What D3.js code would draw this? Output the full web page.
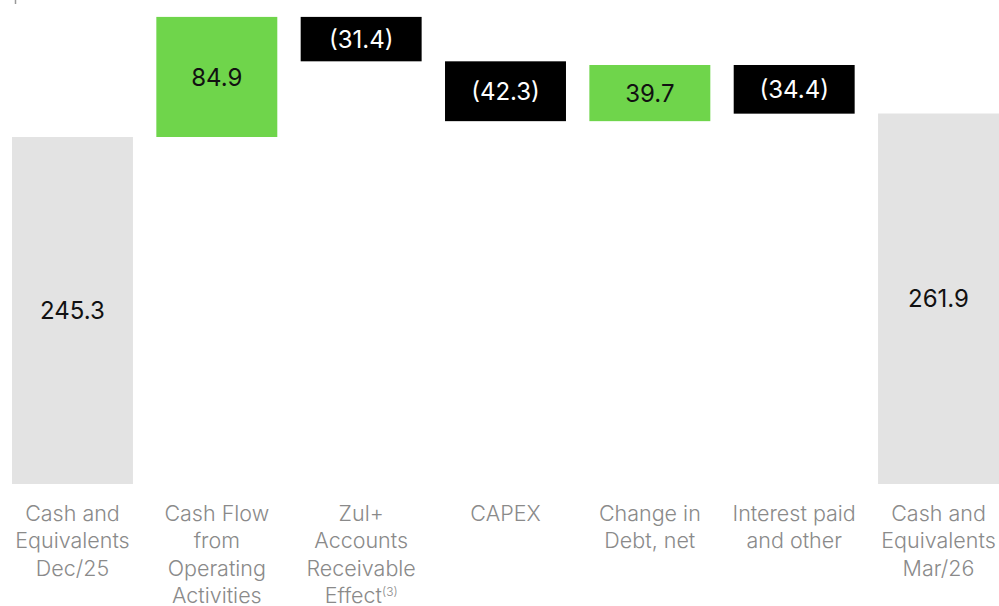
<!DOCTYPE html>
<html>
<head>
<meta charset="utf-8">
<script src="https://cdn.jsdelivr.net/npm/d3@7"></script>
<style>
  body { margin: 0; background: #fff; }
  svg { display: block; }
</style>
</head>
<body>
<div id="chart"></div>
<script>
// waterfall data
const categories = ["dec25", "cfo", "zul", "capex", "debt", "interest", "mar26"];
const labelLines = [
    ["Cash and", "Equivalents", "Dec/25"],
    ["Cash Flow", "from", "Operating", "Activities"],
    ["Zul+", "Accounts", "Receivable", "Effect"],
    ["CAPEX"],
    ["Change in", "Debt, net"],
    ["Interest paid", "and other"],
    ["Cash and", "Equivalents", "Mar/26"]
];
const values = [245.3, 84.9, -31.4, -42.3, 39.7, -34.4, 261.9];
const kinds = ["total", "delta", "delta", "delta", "delta", "delta", "total"];

const width = 999, height = 606;
const baseY = 484;

const svg = d3.select("#chart").append("svg")
    .attr("width", width)
    .attr("height", height);

// build start/end for each bar
let running = 0;
const bars = categories.map((c, i) => {
    let start, end;
    if (kinds[i] === "total") {
        start = 0; end = values[i]; running = values[i];
    } else {
        start = running; end = running + values[i]; running = end;
    }
    return { key: c, value: values[i], kind: kinds[i], start, end, lines: labelLines[i] };
});

const x = d3.scaleBand()
    .domain(categories)
    .range([12, 999])
    .paddingInner(0.162)
    .paddingOuter(0);

const y = d3.scaleLinear()
    .domain([0, 245.3])
    .range([baseY, 137]);

function fillFor(d) {
    if (d.kind === "total") return "#e3e3e3";
    return d.value >= 0 ? "#6fd54b" : "#000000";
}

// little tick mark at top left
svg.append("line")
    .attr("x1", 15.5).attr("x2", 15.5)
    .attr("y1", 0).attr("y2", 4)
    .style("stroke", "#999")
    .style("stroke-width", 1.5);

const g = svg.append("g");

g.selectAll("rect.bar")
    .data(bars)
    .join("rect")
    .attr("class", "bar")
    .attr("x", d => x(d.key))
    .attr("width", x.bandwidth())
    .attr("y", d => y(Math.max(d.start, d.end)))
    .attr("height", d => Math.abs(y(d.start) - y(d.end)))
    .style("fill", fillFor);

const fmt = d3.format(".1f");

g.selectAll("text.val")
    .data(bars)
    .join("text")
    .attr("class", "val")
    .attr("x", d => x(d.key) + x.bandwidth() / 2)
    .attr("y", d => (y(d.start) + y(d.end)) / 2)
    .attr("dy", "0.36em")
    .attr("text-anchor", "middle")
    .style("font-family", "Inter, 'Liberation Sans', sans-serif")
    .style("font-size", "24px")
    .style("fill", d => (d.kind === "delta" && d.value < 0) ? "#ffffff" : "#111111")
    .text(d => d.value < 0 ? "(" + fmt(-d.value) + ")" : fmt(d.value));

// category labels under the bars
const labels = g.selectAll("text.cat")
    .data(bars)
    .join("text")
    .attr("class", "cat")
    .attr("text-anchor", "middle")
    .style("font-family", "Inter, 'Liberation Sans', sans-serif")
    .style("font-weight", 300)
    .style("font-size", "21.5px")
    .style("fill", "#8a8a8a");

labels.selectAll("tspan")
    .data(d => d.lines.map((l, i) => ({ text: l, i, cx: x(d.key) + x.bandwidth() / 2, key: d.key })))
    .join("tspan")
    .attr("x", d => d.cx)
    .attr("y", d => 521 + d.i * 27.3)
    .text(d => d.text);

// footnote marker on "Effect"
labels.filter(d => d.key === "zul")
    .append("tspan")
    .attr("dy", -7)
    .style("font-size", "12px")
    .text("(3)");
</script>
</body>
</html>
